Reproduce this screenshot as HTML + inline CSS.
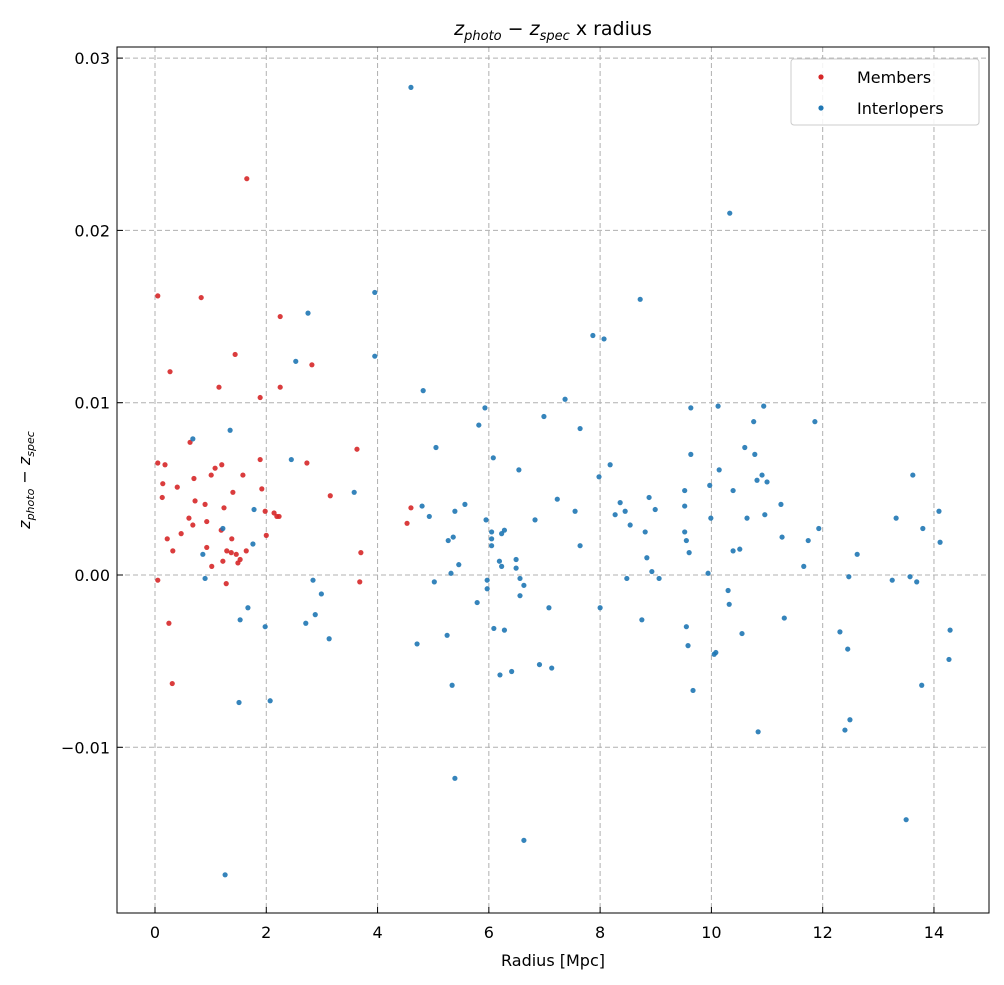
<!DOCTYPE html>
<html><head><meta charset="utf-8"><style>
body{margin:0;background:#fff;}
svg{display:block;font-family:"DejaVu Sans","Liberation Sans",sans-serif;}
</style></head><body>
<svg id="chart" width="1004" height="985" xmlns="http://www.w3.org/2000/svg">
<rect width="1004" height="985" fill="#fff"/>
<g id="grid"></g>
<g id="pts"></g>
<rect x="117" y="47" width="872" height="866" fill="none" stroke="#000" stroke-width="1"/>
<g id="ticks"></g>
<text x="553" y="35" text-anchor="middle" font-size="19"><tspan font-style="italic">z</tspan><tspan font-style="italic" font-size="13" dy="5">photo</tspan><tspan dy="-5"> − </tspan><tspan font-style="italic">z</tspan><tspan font-style="italic" font-size="13" dy="5">spec</tspan><tspan dy="-5"> x radius</tspan></text>
<text x="553" y="966" text-anchor="middle" font-size="16">Radius [Mpc]</text>
<text transform="translate(30,480) rotate(-90)" text-anchor="middle" font-size="16"><tspan font-style="italic">z</tspan><tspan font-style="italic" font-size="11" dy="4">photo</tspan><tspan dy="-4"> − </tspan><tspan font-style="italic">z</tspan><tspan font-style="italic" font-size="11" dy="4">spec</tspan></text>
<g>
<rect x="791" y="59" width="188" height="66" rx="3" fill="#fff" fill-opacity="0.85" stroke="#ccc"/>
<circle cx="821" cy="77" r="2.6" fill="#d62728"/>
<text x="857" y="83" font-size="16">Members</text>
<circle cx="821" cy="108" r="2.6" fill="#1f77b4"/>
<text x="857" y="114" font-size="16">Interlopers</text>
</g>
</svg>
<script>
const xTicks=[0,2,4,6,8,10,12,14];
const yTicks=[-0.01,0,0.01,0.02,0.03];
const yTickLabels=["−0.01","0.00","0.01","0.02","0.03"];
const membersX=[0.05,0.05,0.05,0.13,0.14,0.18,0.22,0.25,0.27,0.31,0.32,0.40,0.47,0.61,0.63,0.68,0.70,0.72,0.83,0.90,0.93,0.93,1.01,1.02,1.08,1.15,1.19,1.20,1.22,1.24,1.28,1.29,1.37,1.38,1.40,1.44,1.46,1.49,1.53,1.58,1.64,1.65,1.89,1.89,1.92,1.98,2.0,2.14,2.19,2.23,2.25,2.25,2.73,2.82,3.15,3.63,3.70,3.68,4.53,4.60];
const membersY=[0.0162,0.0065,-0.0003,0.0045,0.0053,0.0064,0.0021,-0.0028,0.0118,-0.0063,0.0014,0.0051,0.0024,0.0033,0.0077,0.0029,0.0056,0.0043,0.0161,0.0041,0.0031,0.0016,0.0058,0.0005,0.0062,0.0109,0.0026,0.0064,0.0008,0.0039,-0.0005,0.0014,0.0013,0.0021,0.0048,0.0128,0.0012,0.0007,0.0009,0.0058,0.0014,0.0230,0.0103,0.0067,0.0050,0.0037,0.0023,0.0036,0.0034,0.0034,0.0150,0.0109,0.0065,0.0122,0.0046,0.0073,0.0013,-0.0004,0.0030,0.0039];
const interX=[4.60,10.33,3.95,8.72,2.75,2.53,3.95,7.87,8.07,4.82,7.37,5.93,6.99,5.82,7.64,0.68,1.35,5.05,6.08,2.45,8.18,6.54,7.98,3.58,4.80,5.57,4.93,5.39,7.23,7.55,7.64,8.27,8.36,8.45,8.54,8.88,8.99,8.81,6.83,5.95,6.05,6.05,6.05,6.23,6.28,6.19,6.23,6.49,6.49,6.56,6.63,6.56,5.27,5.36,5.32,5.46,5.97,5.97,5.79,5.02,6.09,6.28,5.25,4.71,5.34,6.20,6.41,6.91,7.13,7.08,8.00,8.75,8.48,8.84,8.93,9.06,5.39,6.63,1.26,1.51,2.07,1.53,1.67,1.98,1.76,1.78,0.86,0.90,1.22,2.71,2.84,2.88,2.99,3.13,9.52,9.52,9.52,9.55,9.60,9.63,9.63,9.55,9.58,9.67,9.94,9.97,9.99,10.05,10.08,10.12,10.14,10.30,10.32,10.39,10.39,10.51,10.55,10.60,10.64,10.76,10.78,10.82,10.84,10.91,10.94,10.96,11.0,11.25,11.27,11.31,11.66,11.74,11.86,11.93,12.31,12.40,12.45,12.47,12.49,12.62,13.25,13.32,13.50,13.57,13.62,13.69,13.78,13.80,14.09,14.11,14.27,14.29];
const interY=[0.0283,0.0210,0.0164,0.0160,0.0152,0.0124,0.0127,0.0139,0.0137,0.0107,0.0102,0.0097,0.0092,0.0087,0.0085,0.0079,0.0084,0.0074,0.0068,0.0067,0.0064,0.0061,0.0057,0.0048,0.0040,0.0041,0.0034,0.0037,0.0044,0.0037,0.0017,0.0035,0.0042,0.0037,0.0029,0.0045,0.0038,0.0025,0.0032,0.0032,0.0025,0.0021,0.0017,0.0024,0.0026,0.0008,0.0005,0.0009,0.0004,-0.0002,-0.0006,-0.0012,0.0020,0.0022,0.0001,0.0006,-0.0003,-0.0008,-0.0016,-0.0004,-0.0031,-0.0032,-0.0035,-0.0040,-0.0064,-0.0058,-0.0056,-0.0052,-0.0054,-0.0019,-0.0019,-0.0026,-0.0002,0.0010,0.0002,-0.0002,-0.0118,-0.0154,-0.0174,-0.0074,-0.0073,-0.0026,-0.0019,-0.0030,0.0018,0.0038,0.0012,-0.0002,0.0027,-0.0028,-0.0003,-0.0023,-0.0011,-0.0037,0.0049,0.0040,0.0025,0.0020,0.0013,0.0097,0.0070,-0.0030,-0.0041,-0.0067,0.0001,0.0052,0.0033,-0.0046,-0.0045,0.0098,0.0061,-0.0009,-0.0017,0.0049,0.0014,0.0015,-0.0034,0.0074,0.0033,0.0089,0.0070,0.0055,-0.0091,0.0058,0.0098,0.0035,0.0054,0.0041,0.0022,-0.0025,0.0005,0.0020,0.0089,0.0027,-0.0033,-0.0090,-0.0043,-0.0001,-0.0084,0.0012,-0.0003,0.0033,-0.0142,-0.0001,0.0058,-0.0004,-0.0064,0.0027,0.0037,0.0019,-0.0049,-0.0032];
const NS="http://www.w3.org/2000/svg";
function xs(v){return 155+v*55.64;}
function ys(v){return 575-v*17230;}
const grid=document.getElementById('grid'),ticks=document.getElementById('ticks'),pts=document.getElementById('pts');
function mk(tag,attrs,parent){const e=document.createElementNS(NS,tag);for(const k in attrs)e.setAttribute(k,attrs[k]);parent.appendChild(e);return e;}
xTicks.forEach(t=>{const x=xs(t);
const g=mk('line',{x1:x,x2:x,y1:47,y2:913,stroke:'#b0b0b0','stroke-dasharray':'5,3','stroke-width':1},grid);


mk('line',{x1:x,x2:x,y1:913,y2:907,stroke:'#000'},ticks);
const l=mk('text',{x:x,y:938,'text-anchor':'middle','font-size':16},ticks);l.textContent=String(t);


});
yTicks.forEach((t,i)=>{const y=ys(t);
const g=mk('line',{x1:117,x2:989,y1:y,y2:y,stroke:'#b0b0b0','stroke-dasharray':'5,3','stroke-width':1},grid);


mk('line',{x1:117,x2:123,y1:y,y2:y,stroke:'#000'},ticks);
const l=mk('text',{x:110,y:y+6,'text-anchor':'end','font-size':16},ticks);l.textContent=yTickLabels[i];


});
membersX.forEach((v,i)=>{const c=mk('circle',{cx:xs(v),cy:ys(membersY[i]),r:2.6,fill:'#d62728','fill-opacity':0.9},pts);

});
interX.forEach((v,i)=>{const c=mk('circle',{cx:xs(v),cy:ys(interY[i]),r:2.6,fill:'#1f77b4','fill-opacity':0.9},pts);

});
</script>
</body></html>
